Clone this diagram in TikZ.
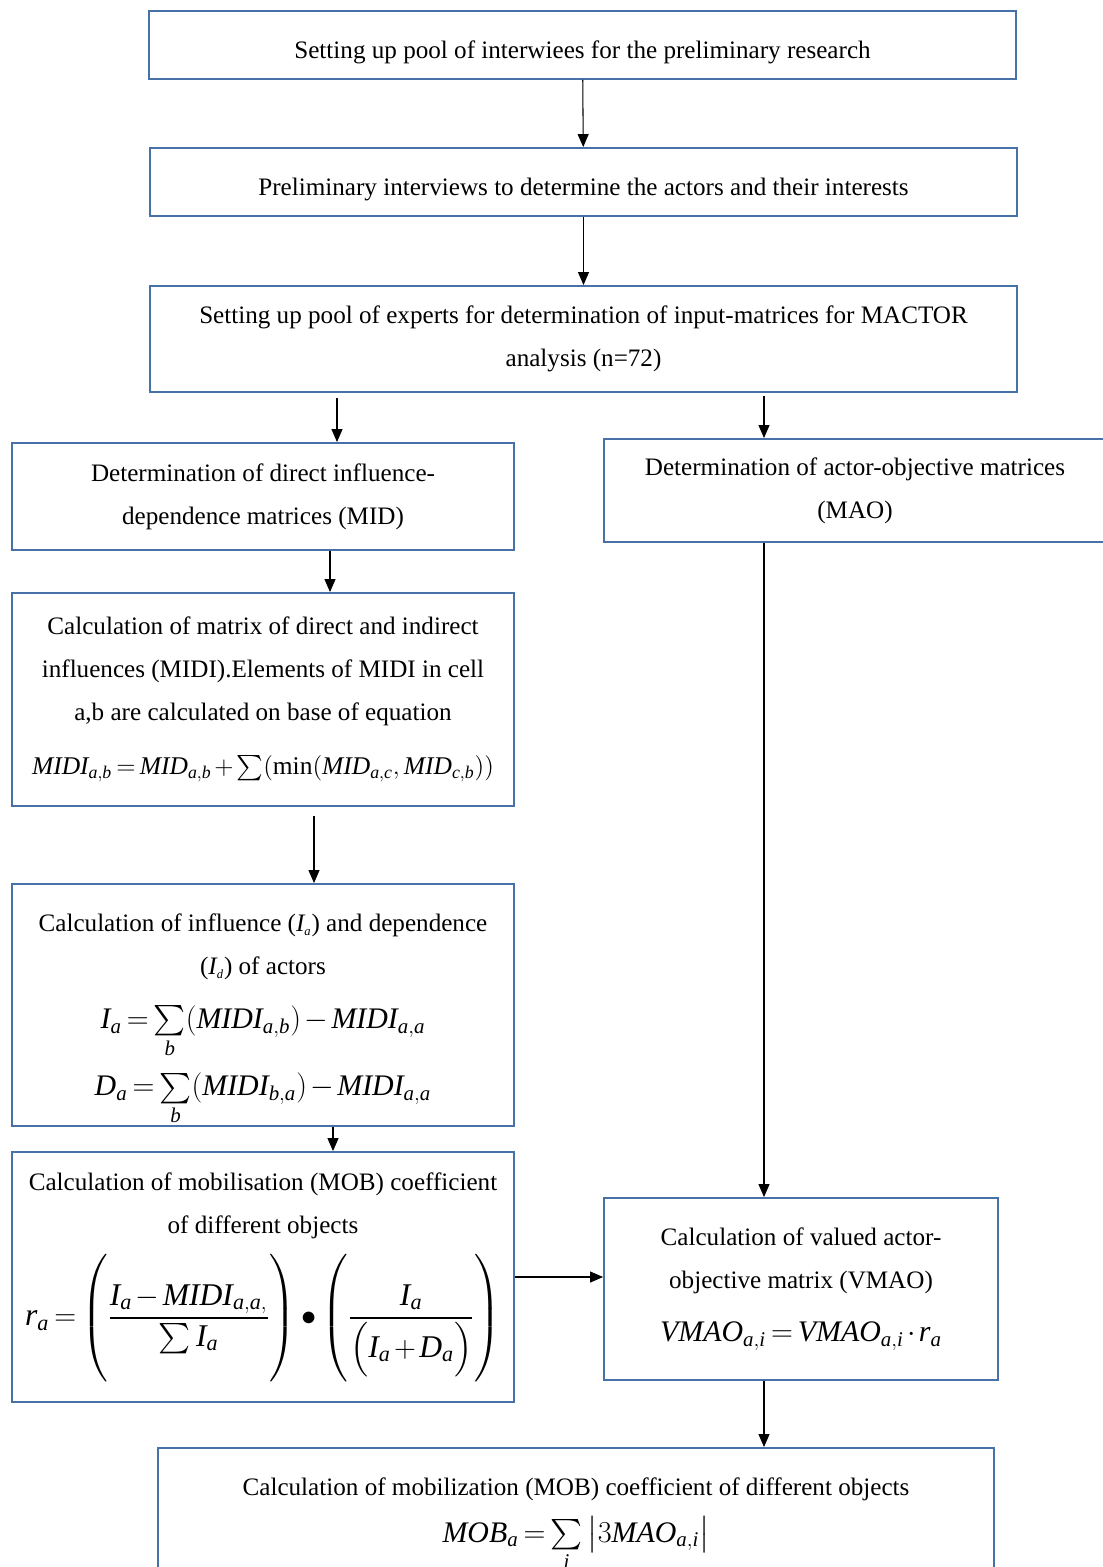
\documentclass[tikz,border=0pt]{standalone}
\usepackage{amsmath}
\usepackage{fontspec}
\setmainfont{Liberation Serif}
\usetikzlibrary{arrows.meta}
\definecolor{boxblue}{RGB}{70,114,168}
\newcommand{\vi}[1]{\mathit{#1}}
\newcommand{\tightmath}{\thickmuskip=3mu\medmuskip=2mu\relax}
\begin{document}
\begin{tikzpicture}
    [%%%%%%%%%%%%%%%%%%%%%%%%%%%%%%
        x=0.02cm, y=-0.02cm,
        box/.style={rectangle,draw=boxblue,line width=1.1pt,align=center,inner sep=0pt,
            font=\fontsize{14.3}{24.5}\selectfont},
        lowtext/.style={execute at begin node={\rule{0pt}{#1}}},
        lowtext/.default=19pt,
        arr/.style={-{Triangle[length=2.6mm,width=2.2mm]},line width=0.6pt},
    ]%%%%%%%%%%%%%%%%%%%%%%%%%%%%%%
\useasboundingbox (0,0) rectangle (1102,1567);

\node[box, lowtext, minimum width=17.34cm, minimum height=1.36cm] (setup) at (582.5,45)
    {Setting up pool of interwiees for the preliminary research};
\node[box, lowtext, minimum width=17.34cm, minimum height=1.36cm] (prelim) at (583.5,182)
    {Preliminary interviews to determine the actors and their interests};
\node[box, lowtext=29pt, minimum width=17.34cm, minimum height=2.12cm] (experts) at (583.5,339)
    {Setting up pool of experts for determination of input-matrices for MACTOR\\analysis (n=72)};

\node[box, lowtext=28.5pt, minimum width=10.04cm, minimum height=2.14cm] (mid) at (263,496.5)
    {Determination of direct influence-\\dependence matrices (MID)};
\node[box, lowtext=30.5pt, minimum width=10.04cm, minimum height=2.06cm] (mao) at (855,490.5)
    {Determination of actor-objective matrices\\(MAO)};

\node[box, lowtext=27pt, minimum width=10.04cm, minimum height=4.26cm] (midi) at (263,699.5)
    {Calculation of matrix of direct and indirect\\influences (MIDI).Elements of MIDI in cell\\a,b are calculated on base of equation\\[6pt]
    {\fontsize{14.5}{18}\selectfont\tightmath $\vi{MIDI}_{\vi{a,b}}=\vi{MID}_{\vi{a,b}}+\sum(\min(\vi{MID}_{\vi{a,c}},\vi{MID}_{\vi{c,b}}))$}};

\node[box, lowtext=33pt, minimum width=10.04cm, minimum height=4.84cm] (infl) at (263,1005)
    {Calculation of influence ($\vi{I}_{\scriptscriptstyle\vi{a}}$) and dependence\\($\vi{I}_{\scriptscriptstyle\vi{d}}$) of actors\\[6pt]
    {\fontsize{17}{20}\selectfont\tightmath $\vi{I}_{\vi{a}}=\sum\limits_{\vi{b}}(\vi{MIDI}_{\vi{a,b}})-\vi{MIDI}_{\vi{a,a}}$}\\[7pt]
    {\fontsize{17}{20}\selectfont\tightmath \smash[b]{$\vi{D}_{\vi{a}}=\sum\limits_{\vi{b}}(\vi{MIDI}_{\vi{b,a}})-\vi{MIDI}_{\vi{a,a}}$}}};

\node[box, lowtext=28pt, minimum width=10.04cm, minimum height=5.0cm] (mob) at (263,1277)
    {Calculation of mobilisation (MOB) coefficient\\of different objects\\[8pt]
    {\fontsize{18}{22}\selectfont\tightmath $\vi{r}_{\vi{a}}=\left(\vrule height 40pt depth 30pt width 0pt
    \dfrac{\vi{I}_{\vi{a}}-\vi{MIDI}_{\vi{a,a,}}}{\sum\vi{I}_{\vi{a}}}\right)\mathord{\bullet}
    \left(\vrule height 40pt depth 30pt width 0pt
    \dfrac{\vi{I}_{\vi{a}}}{\Bigl(\vi{I}_{\vi{a}}+\vi{D}_{\vi{a}}\Bigr)}\right)$}};

\node[box, minimum width=7.88cm, minimum height=3.64cm] (vmao) at (801,1289)
    {Calculation of valued actor-\\objective matrix (VMAO)\\[6pt]
    {\fontsize{17}{20}\selectfont\tightmath $\vi{VMAO}_{\vi{a,i}}=\vi{VMAO}_{\vi{a,i}}\cdot\vi{r}_{\vi{a}}$}};

\node[box, minimum width=16.72cm, minimum height=3.08cm] (mobz) at (576,1525)
    {Calculation of mobilization (MOB) coefficient of different objects\\[2pt]
    {\fontsize{17}{20}\selectfont\tightmath $\vi{MOB}_{\vi{a}}=\sum\limits_{\vi{i}}\big|3\vi{MAO}_{\vi{a,i}}\big|$}};

\coordinate (xmid) at (337,0);
\coordinate (xmao) at (764,0);
\coordinate (xmidi) at (330,0);
\coordinate (xinfl) at (314,0);
\coordinate (xmob) at (333,0);

\draw[arr] (setup) -- (prelim);
\draw[arr] (prelim) -- (experts);
\draw[arr, shorten <=3pt] (experts.south -| xmid) -- (mid.north -| xmid);
\draw[arr, shorten <=2pt] (experts.south -| xmao) -- (mao.north -| xmao);
\draw[arr] (mid.south -| xmidi) -- (midi.north -| xmidi);
\draw[arr, shorten <=5pt] (midi.south -| xinfl) -- (infl.north -| xinfl);
\draw[arr] (infl.south -| xmob) -- (mob.north -| xmob);
\draw[arr] (mao.south -| xmao) -- (vmao.north -| xmao);
\draw[arr] (mob.east) -- (mob.east -| vmao.west);
\draw[arr] (vmao.south -| xmao) -- (mobz.north -| xmao);

\end{tikzpicture}
\end{document}
